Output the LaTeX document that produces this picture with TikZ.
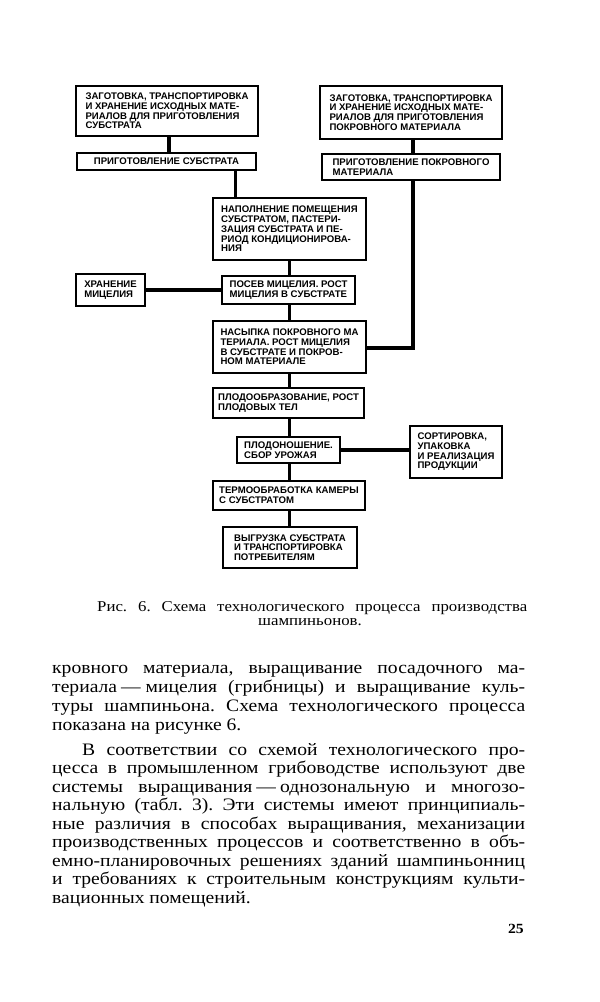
\documentclass[tikz,border=0pt]{standalone}
\usepackage{fontspec}
\newfontfamily\boxfont{Liberation Sans}
\newfontfamily\bodyfont[FakeStretch=1.12]{Liberation Serif}
\frenchspacing
\tikzset{
  box/.style={draw, line width=1.3pt, align=left, inner xsep=3pt, inner ysep=1pt,
    font=\boxfont\bfseries\fontsize{9.6}{9.7}\selectfont},
  link/.style={line width=3.6pt},
  bodyline/.style={anchor=base west, inner sep=0pt, font=\bodyfont\fontsize{17.5}{18.7}\selectfont},
  capline/.style={inner sep=0pt, font=\bodyfont\fontsize{15}{14.5}\selectfont}
}
\begin{document}
\begin{tikzpicture}[x=1pt,y=-1pt]
\useasboundingbox[fill=white] (0,0) rectangle (600,1002);

% boxes
\node[box, minimum width=182pt, minimum height=50pt] (A) at (167,111)
  {ЗАГОТОВКА, ТРАНСПОРТИРОВКА\\И ХРАНЕНИЕ ИСХОДНЫХ МАТЕ-\\РИАЛОВ ДЛЯ ПРИГОТОВЛЕНИЯ\\СУБСТРАТА};
\node[box, minimum width=179pt, minimum height=17pt] (A2) at (166.5,161.5)
  {ПРИГОТОВЛЕНИЕ СУБСТРАТА};
\node[box, minimum width=182pt, minimum height=53pt] (B) at (411,112.5)
  {ЗАГОТОВКА, ТРАНСПОРТИРОВКА\\И ХРАНЕНИЕ ИСХОДНЫХ МАТЕ-\\РИАЛОВ ДЛЯ ПРИГОТОВЛЕНИЯ\\ПОКРОВНОГО МАТЕРИАЛА};
\node[box, minimum width=178pt, minimum height=26pt] (B2) at (411,167)
  {ПРИГОТОВЛЕНИЕ ПОКРОВНОГО\\МАТЕРИАЛА};
\node[box, minimum width=153pt, minimum height=62pt] (C) at (289.5,229)
  {НАПОЛНЕНИЕ ПОМЕЩЕНИЯ\\СУБСТРАТОМ, ПАСТЕРИ-\\ЗАЦИЯ СУБСТРАТА И ПЕ-\\РИОД КОНДИЦИОНИРОВА-\\НИЯ};
\node[box, minimum width=69pt, minimum height=32pt] (HR) at (110.5,290)
  {ХРАНЕНИЕ\\МИЦЕЛИЯ};
\node[box, minimum width=133pt, minimum height=28pt] (D) at (288.5,290)
  {ПОСЕВ МИЦЕЛИЯ. РОСТ\\МИЦЕЛИЯ В СУБСТРАТЕ};
\node[box, minimum width=153pt, minimum height=52pt] (E) at (289.5,347)
  {НАСЫПКА ПОКРОВНОГО МА\\ТЕРИАЛА. РОСТ МИЦЕЛИЯ\\В СУБСТРАТЕ И ПОКРОВ-\\НОМ МАТЕРИАЛЕ};
\node[box, minimum width=151pt, minimum height=30pt] (F) at (288.5,403)
  {ПЛОДООБРАЗОВАНИЕ, РОСТ\\ПЛОДОВЫХ ТЕЛ};
\node[box, minimum width=103pt, minimum height=26pt] (G) at (288.5,450)
  {ПЛОДОНОШЕНИЕ.\\СБОР УРОЖАЯ};
\node[box, minimum width=92pt, minimum height=52pt] (H) at (456,452)
  {СОРТИРОВКА,\\УПАКОВКА\\И РЕАЛИЗАЦИЯ\\ПРОДУКЦИИ};
\node[box, minimum width=152pt, minimum height=29pt] (I) at (289,495.5)
  {ТЕРМООБРАБОТКА КАМЕРЫ\\С СУБСТРАТОМ};
\node[box, minimum width=134pt, minimum height=41pt] (J) at (290,547.5)
  {ВЫГРУЗКА СУБСТРАТА\\И ТРАНСПОРТИРОВКА\\ПОТРЕБИТЕЛЯМ};

% connectors
\draw[link] ([xshift=2pt]A.south) -- ([xshift=2pt]A.south |- A2.north);
\draw[link] ([xshift=23pt]C.north west |- A2.south) -- ([xshift=23pt]C.north west);
\draw[link] ([xshift=2pt]B.south) -- ([xshift=2pt]B.south |- B2.north);
\draw[link] ([xshift=2pt]B2.south) |- ([yshift=-1pt]E.east);
\draw[link] (C.south) -- (C.south |- D.north);
\draw[link] (D.south -| C.south) -- (E.north -| C.south);
\draw[link] (E.south -| C.south) -- (F.north -| C.south);
\draw[link] (F.south -| C.south) -- (G.north -| C.south);
\draw[link] (G.south -| C.south) -- (I.north -| C.south);
\draw[link] (I.south -| C.south) -- (J.north -| C.south);
\draw[link] (HR.east) -- (D.west);
\draw[link] (G.east) -- (G.east -| H.west);

% caption
\node[capline, anchor=base west] (cap1) at (97,611)
  {\makebox[430pt][s]{Рис. 6. Схема технологического процесса производства}};
\node[capline, anchor=base] (cap2) at (310,625.5) {шампиньонов.};

% body text
\node[bodyline] (p1) at (52,673) {\makebox[473pt][s]{кровного материала, выращивание посадочного ма-}};
\node[bodyline] (p2) at (52,692.5) {\makebox[473pt][s]{териала\kern4pt—\kern5pt мицелия (грибницы) и выращивание куль-}};
\node[bodyline] (p3) at (52,711.5) {\makebox[473pt][s]{туры шампиньона. Схема технологического процесса}};
\node[bodyline] (p4) at (52,730.5) {показана на рисунке 6.};

\node[bodyline] (q1) at (82,755) {\makebox[443pt][s]{В соответствии со схемой технологического про-}};
\node[bodyline] (q2) at (52,773.5) {\makebox[473pt][s]{цесса в промышленном грибоводстве используют две}};
\node[bodyline] (q3) at (52,792) {\makebox[473pt][s]{системы выращивания\kern4pt—\kern4pt однозональную и многозо-}};
\node[bodyline] (q4) at (52,810.5) {\makebox[473pt][s]{нальную (табл. 3). Эти системы имеют принципиаль-}};
\node[bodyline] (q5) at (52,829) {\makebox[473pt][s]{ные различия в способах выращивания, механизации}};
\node[bodyline] (q6) at (52,847.5) {\makebox[473pt][s]{производственных процессов и соответственно в объ-}};
\node[bodyline] (q7) at (52,866) {\makebox[473pt][s]{емно-планировочных решениях зданий шампиньонниц}};
\node[bodyline] (q8) at (52,884.5) {\makebox[473pt][s]{и требованиях к строительным конструкциям культи-}};
\node[bodyline] (q9) at (52,903) {вационных помещений.};

\node[anchor=base east, inner sep=0pt, font=\bodyfont\bfseries\fontsize{14}{14}\selectfont] (pg) at (524,933) {25};
\end{tikzpicture}
\end{document}
